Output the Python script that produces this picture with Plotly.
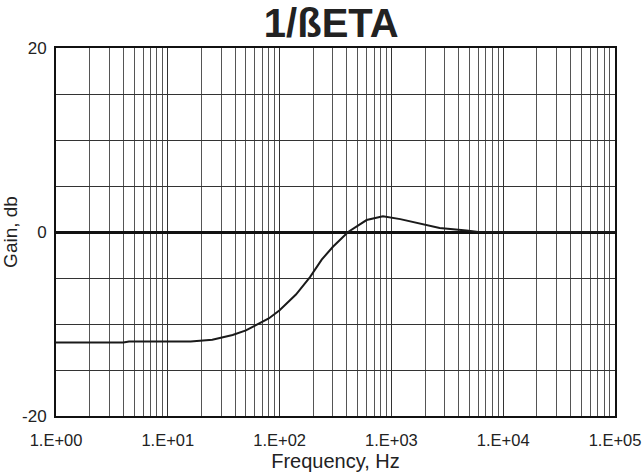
import plotly.graph_objects as go

# Closed-loop feedback factor 1/beta vs frequency
freq_hz = [1, 4, 4.5, 10, 16, 25, 38, 50, 63, 80, 100, 140, 187, 238, 300,
           410, 600, 840, 1200, 1700, 2700, 4700, 6000, 100000]
gain_db = [-12, -12, -11.9, -11.9, -11.9, -11.7, -11.2, -10.7, -10.1, -9.4,
           -8.5, -6.8, -4.9, -3.0, -1.6, 0, 1.3, 1.7, 1.4, 1.0, 0.43, 0.15,
           0, 0]

x_tick_vals = [1, 10, 100, 1000, 10000, 100000]
x_tick_text = ["1.E+00", "1.E+01", "1.E+02", "1.E+03", "1.E+04", "1.E+05"]
y_tick_vals = [-20, 0, 20]
y_tick_text = ["-20", "0", "20"]

font_family = "Liberation Sans, Arial, sans-serif"

fig = go.Figure()
fig.add_trace(go.Scatter(
    x=freq_hz, y=gain_db, mode="lines",
    line=dict(color="#1a1a1a", width=2),
    showlegend=False,
))

fig.update_layout(
    width=642, height=476,
    margin=dict(l=56, r=27, t=48, b=60, autoexpand=False),
    paper_bgcolor="white", plot_bgcolor="white",
    font=dict(family=font_family, size=17, color="#222"),
    title=dict(text="<b>1/ßETA</b>", x=0.516, xanchor="center",
               y=1 - 23 / 476, yanchor="middle",
               font=dict(family=font_family, size=40, color="#222")),
    xaxis=dict(
        type="log", range=[0, 5],
        tickvals=x_tick_vals, ticktext=x_tick_text,
        showgrid=True, gridcolor="#333", gridwidth=1,
        minor=dict(dtick="D1", showgrid=True, gridcolor="#555", gridwidth=1,
                   ticks=""),
        ticks="", ticklen=0, ticklabelstandoff=8,
        ticklabeloverflow="allow",
        automargin=False,
        showline=True, linecolor="#111", linewidth=2, mirror=True,
        title=dict(text="Frequency, Hz", standoff=6,
                   font=dict(size=20)),
        tickfont=dict(size=16.5),
    ),
    yaxis=dict(
        range=[-20, 20],
        tickvals=y_tick_vals, ticktext=y_tick_text,
        showgrid=False,
        minor=dict(dtick=5, tick0=0, showgrid=True, gridcolor="#333",
                   gridwidth=1, ticks=""),
        zeroline=True, zerolinecolor="#111", zerolinewidth=3,
        ticks="", ticklen=0, ticklabelstandoff=4,
        automargin=False,
        showline=True, linecolor="#111", linewidth=2, mirror=True,
        title=dict(text="Gain, db", standoff=4, font=dict(size=19)),
        tickfont=dict(size=17),
    ),
)

fig.write_html("out.html")
